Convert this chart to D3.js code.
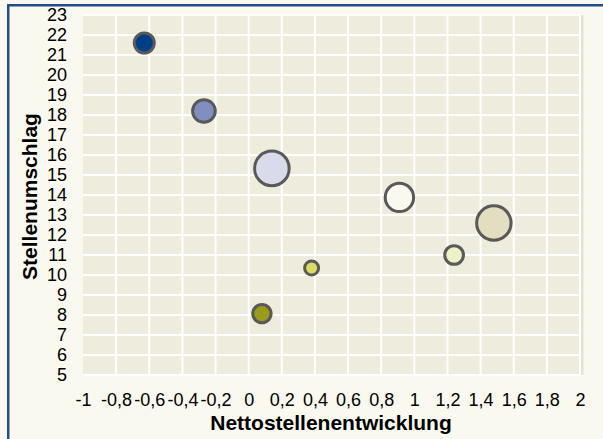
<!DOCTYPE html>
<meta charset="utf-8">
<style>
  body { margin: 0; background: #f9f9ef; }
  text { font-family: Arial, "Liberation Sans", sans-serif; fill: #000; }
</style>
<body>
<script src="https://d3js.org/d3.v7.min.js"></script>
<script>
  // bubble data
  const xVals = [-0.63, -0.27, 0.14, 0.91, 1.48, 1.24, 0.38, 0.08];
  const yVals = [21.6, 18.2, 15.33, 13.88, 12.6, 11.0, 10.35, 8.07];
  const sizes = [132, 164, 353, 246, 350, 118, 72, 114];
  const fills = ["#003f87", "#7f8fbf", "#d9dbea", "#f9f9ee", "#e1dfc0", "#eef0c5", "#dcdc60", "#9b9b1a"];
  const xTicks = [-1, -0.8, -0.6, -0.4, -0.2, 0, 0.2, 0.4, 0.6, 0.8, 1, 1.2, 1.4, 1.6, 1.8, 2];
  const yTicks = d3.range(5, 24);

  const W = 603, H = 439;
  const svg = d3.select("body").append("svg")
    .attr("width", W).attr("height", H);

  svg.append("rect").attr("width", W).attr("height", H).attr("fill", "#f9f9ef");
  // blue frame, top and left only
  svg.append("rect").attr("x", 7).attr("y", 4).attr("width", W - 7).attr("height", 2.5).attr("fill", "#1f4e8c");
  svg.append("rect").attr("x", 7).attr("y", 4).attr("width", 2.5).attr("height", H - 4).attr("fill", "#1f4e8c");

  const x = d3.scaleLinear().domain([-1, 2]).range([83, 580]);
  const y = d3.scaleLinear().domain([5, 23]).range([375, 15]);
  const r = d3.scaleSqrt().domain([0, 353]).range([0, 18.8]);

  // plot area
  svg.append("rect")
    .attr("x", x(-1)).attr("y", y(23))
    .attr("width", x(2) - x(-1)).attr("height", y(5) - y(23))
    .attr("fill", "#eeecdd");
  svg.append("line")
    .attr("x1", x(2) + 2).attr("x2", x(2) + 2)
    .attr("y1", y(23)).attr("y2", y(5))
    .attr("stroke", "#e4e3d4").attr("stroke-width", 3);

  // grid
  const grid = svg.append("g").attr("stroke", "#ffffff").attr("stroke-width", 2);
  grid.selectAll(".gx").data(xTicks.slice(1))
    .join("line")
    .attr("x1", d => x(d)).attr("x2", d => x(d))
    .attr("y1", y(23)).attr("y2", y(5));
  grid.selectAll(".gy").data(yTicks)
    .join("line")
    .attr("x1", x(-1)).attr("x2", x(2))
    .attr("y1", d => y(d)).attr("y2", d => y(d));

  // axes labels
  const fmt = d => String(d).replace(".", ",");
  const xAxis = svg.append("g")
    .attr("transform", `translate(0,${y(5)})`)
    .call(d3.axisBottom(x).tickValues(xTicks).tickFormat(fmt).tickSize(0).tickPadding(0));
  xAxis.select(".domain").remove();
  xAxis.attr("font-size", null).attr("font-family", null);
  xAxis.selectAll("text").attr("dy", null).attr("y", 31).style("font-size", "18px");

  const yAxis = svg.append("g")
    .attr("transform", `translate(67,0)`)
    .call(d3.axisLeft(y).tickValues(yTicks).tickFormat(d3.format("d")).tickSize(0).tickPadding(0));
  yAxis.select(".domain").remove();
  yAxis.attr("font-size", null).attr("font-family", null);
  yAxis.selectAll("text").style("font-size", "18px");

  svg.append("text")
    .attr("x", 331).attr("y", 430)
    .attr("text-anchor", "middle")
    .style("font-size", "21px").style("font-weight", "bold")
    .text("Nettostellenentwicklung");

  svg.append("text")
    .attr("transform", `translate(37,196.5) rotate(-90)`)
    .attr("text-anchor", "middle")
    .style("font-size", "21px").style("font-weight", "bold")
    .text("Stellenumschlag");

  // bubbles
  const data = xVals.map((v, i) => ({ x: v, y: yVals[i], s: sizes[i], c: fills[i] }));
  svg.append("g").selectAll("circle").data(data)
    .join("circle")
    .attr("cx", d => x(d.x)).attr("cy", d => y(d.y))
    .attr("r", d => r(d.s) - 1.5)
    .attr("fill", d => d.c)
    .attr("stroke", "#595959").attr("stroke-width", 3);
</script>
</body>
